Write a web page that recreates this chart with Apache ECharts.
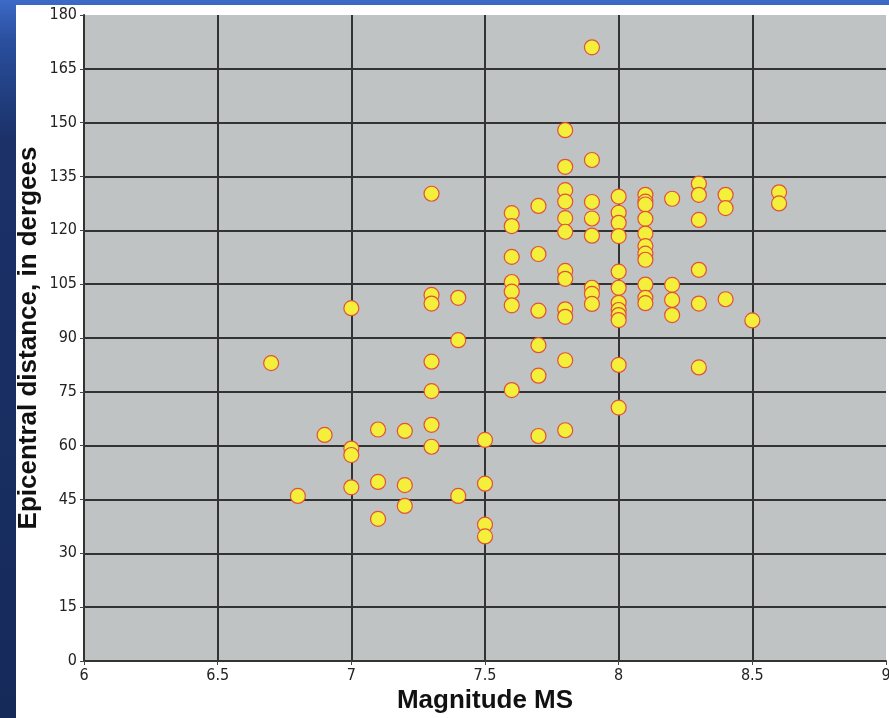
<!DOCTYPE html>
<html>
<head>
<meta charset="utf-8">
<script src="https://cdn.jsdelivr.net/npm/echarts@6/dist/echarts.min.js"></script>
<style>
  html, body { margin: 0; padding: 0; width: 889px; height: 718px; overflow: hidden;
    background: linear-gradient(to bottom, #3c6ac6 0px, #2a4f9e 40px, #1b3168 140px, #162a5a 718px); }
  #chart { position: absolute; left: 16px; top: 5px; width: 873px; height: 713px; background: #ffffff; }
</style>
</head>
<body>
<div id="chart"></div>
<script>
// Magnitude (MS) of each event
const magnitude = [
  6.7,
  6.8,
  6.9,
  7.0, 7.0, 7.0, 7.0,
  7.1, 7.1, 7.1,
  7.2, 7.2, 7.2,
  7.3, 7.3, 7.3, 7.3, 7.3, 7.3, 7.3,
  7.4, 7.4, 7.4,
  7.5, 7.5, 7.5, 7.5,
  7.6, 7.6, 7.6, 7.6, 7.6, 7.6, 7.6,
  7.7, 7.7, 7.7, 7.7, 7.7, 7.7,
  7.8, 7.8, 7.8, 7.8, 7.8, 7.8, 7.8, 7.8, 7.8, 7.8, 7.8, 7.8,
  7.9, 7.9, 7.9, 7.9, 7.9, 7.9, 7.9, 7.9,
  8.0, 8.0, 8.0, 8.0, 8.0, 8.0, 8.0, 8.0, 8.0, 8.0, 8.0, 8.0,
  8.1, 8.1, 8.1, 8.1, 8.1, 8.1, 8.1, 8.1, 8.1, 8.1, 8.1,
  8.2, 8.2, 8.2, 8.2,
  8.3, 8.3, 8.3, 8.3, 8.3, 8.3,
  8.4, 8.4, 8.4,
  8.5,
  8.6, 8.6
];
// Epicentral distance (degrees), same order as magnitude
const distance = [
  83,
  46,
  63,
  98.3, 59.2, 57.4, 48.4,
  64.5, 49.9, 39.6,
  64.1, 49, 43.2,
  130.2, 102, 99.6, 83.4, 75.2, 65.8, 59.7,
  101.2, 89.4, 46,
  61.6, 49.4, 38, 34.7,
  124.8, 121.2, 112.6, 105.6, 102.9, 99.1, 75.5,
  126.8, 113.4, 97.6, 88, 79.5, 62.7,
  147.9, 137.7, 131.2, 128, 123.4, 119.6, 108.7, 106.5, 98, 95.9, 83.8, 64.3,
  171, 139.6, 127.9, 123.3, 118.5, 104, 102.3, 99.5,
  129.4, 124.9, 122.1, 118.4, 108.5, 104, 99.8, 97.8, 96.4, 95, 82.5, 70.6,
  129.9, 128, 127.2, 123.2, 119.1, 115.6, 113.5, 111.8, 104.9, 101.2, 99.7,
  128.8, 104.8, 100.6, 96.4,
  133, 129.9, 122.9, 109, 99.6, 81.8,
  129.9, 126.2, 100.8,
  94.9,
  130.6, 127.5
];
const xTitle = 'Magnitude MS';
const yTitle = 'Epicentral distance, in dergees';
const xRange = [6, 9, 0.5];
const yRange = [0, 180, 15];

const points = magnitude.map((m, i) => [m, distance[i]]);

const tickFont = "'Liberation Sans Narrow', 'DejaVu Sans Condensed', 'Liberation Sans', Arial, sans-serif";
const titleFont = "'Liberation Sans', Arial, sans-serif";
const chart = echarts.init(document.getElementById('chart'), null, { renderer: 'canvas' });
chart.setOption({
  animation: false,
  grid: {
    left: 68, top: 10, right: 3, bottom: 57,
    containLabel: false, outerBoundsMode: 'none',
    show: true, backgroundColor: '#c0c3c3', borderWidth: 0
  },
  xAxis: {
    type: 'value', min: xRange[0], max: xRange[1], interval: xRange[2],
    name: xTitle, nameLocation: 'middle', nameGap: 27, nameMoveOverlap: false,
    nameTextStyle: { fontFamily: titleFont, fontWeight: 'bold', fontSize: 26, color: '#111' },
    axisLine: { show: true, lineStyle: { color: '#333', width: 2 } },
    axisTick: { show: true, length: 4, lineStyle: { color: '#444', width: 1 } },
    axisLabel: { fontFamily: tickFont, fontSize: 16, color: '#222', margin: 7 },
    splitLine: { show: true, showMinLine: false, showMaxLine: false, lineStyle: { color: '#333', width: 2 } }
  },
  yAxis: {
    type: 'value', min: yRange[0], max: yRange[1], interval: yRange[2],
    name: yTitle, nameLocation: 'middle', nameGap: 42, nameRotate: 90, nameMoveOverlap: false,
    nameTextStyle: { fontFamily: titleFont, fontWeight: 'bold', fontSize: 26, color: '#111' },
    axisLine: { show: true, lineStyle: { color: '#333', width: 2 } },
    axisTick: { show: true, length: 4, lineStyle: { color: '#444', width: 1 } },
    axisLabel: { fontFamily: tickFont, fontSize: 16, color: '#222', margin: 7 },
    splitLine: { show: true, showMinLine: false, showMaxLine: false, lineStyle: { color: '#333', width: 2 } }
  },
  series: [{
    type: 'scatter',
    data: points,
    symbol: 'circle',
    symbolSize: 15,
    itemStyle: { color: '#f3ef3a', borderColor: '#e2503a', borderWidth: 1.2, opacity: 1 },
    emphasis: { disabled: true }
  }]
});
</script>
</body>
</html>
